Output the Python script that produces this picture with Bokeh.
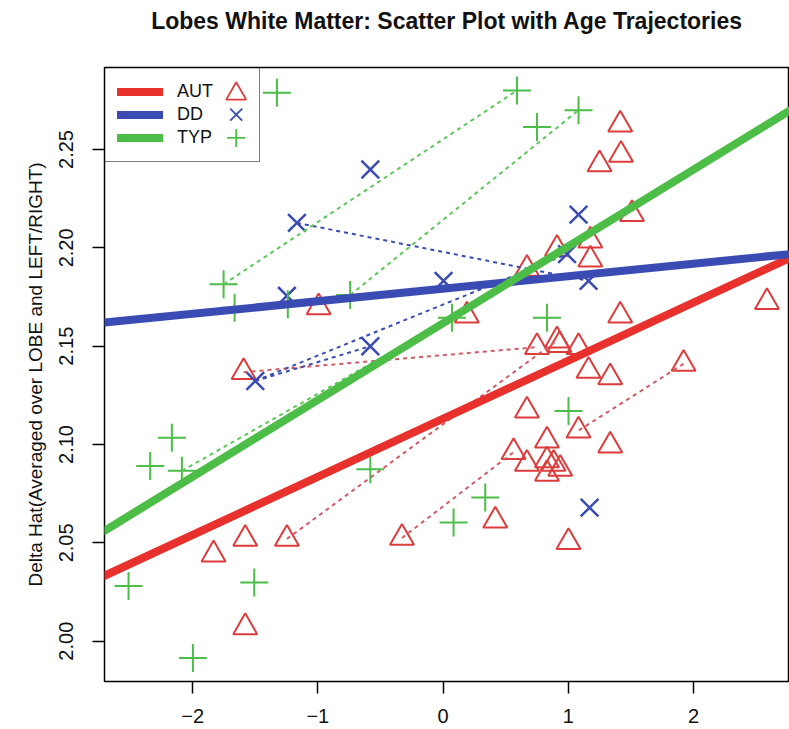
from bokeh.plotting import figure
from bokeh.models import (Range1d, FixedTicker, PrintfTickFormatter,
                          Legend, LegendItem, Title)
from bokeh.embed import file_html
from bokeh.resources import INLINE

# ---------------- data ----------------
aut_x = [1.415, 1.421, 1.25, 1.509, 0.91, 1.176, 1.176, 0.67, 2.587, 1.415, 0.91, 0.93, 0.75,
         1.082, 1.162, 1.335, 1.921, 1.082, 1.335, -0.994, 0.19, 0.67, 0.83, 0.563, 0.67, 0.83,
         0.883, 0.83, 0.936, -1.593, -0.328, 0.417, 1.002, -1.833, -1.58, -1.247, -1.58]
aut_y = [2.2627, 2.2473, 2.2425, 2.2172, 2.1995, 2.2037, 2.1940, 2.1893, 2.1724, 2.1655, 2.1529,
         2.1505, 2.1495, 2.1495, 2.1375, 2.1342, 2.1410, 2.1071, 2.0995, 2.1698, 2.1656, 2.1173,
         2.1020, 2.0961, 2.0902, 2.0919, 2.0902, 2.0851, 2.0876, 2.1368, 2.0525, 2.0613, 2.0504,
         2.0441, 2.0520, 2.0520, 2.0071]

dd_x = [-1.167, -0.581, 1.082, 0.99, 1.162, -1.247, -1.5, 0.004, -0.581, 1.170]
dd_y = [2.2127, 2.2398, 2.2169, 2.1968, 2.1832, 2.1756, 2.1323, 2.1832, 2.1500, 2.0679]

typ_x = [-1.327, 0.590, 0.750, 1.082, -1.753, -1.665, -1.24, -0.742, 0.071, 0.830, 1.002,
         -0.581, 0.337, 0.084, -2.166, -2.339, -2.086, -2.512, -1.508, -1.998]
typ_y = [2.2788, 2.2800, 2.2615, 2.2700, 2.1815, 2.1696, 2.1713, 2.1760, 2.1645, 2.1645, 2.1171,
         2.0874, 2.0730, 2.0603, 2.1035, 2.0891, 2.0866, 2.0281, 2.0298, 1.9914]

# age trajectories (first visit -> second visit)
aut_traj_x0 = [1.921, -1.593, -1.247, -0.328]
aut_traj_y0 = [2.1410, 2.1368, 2.0520, 2.0525]
aut_traj_x1 = [1.082, 0.75, 0.91, 0.563]
aut_traj_y1 = [2.1071, 2.1495, 2.1529, 2.0961]

dd_traj_x0 = [-1.167, -1.5, -1.5]
dd_traj_y0 = [2.2127, 2.1323, 2.1323]
dd_traj_x1 = [1.162, -0.581, 0.99]
dd_traj_y1 = [2.1832, 2.1500, 2.1968]

typ_traj_x0 = [-1.753, -0.742, -2.086]
typ_traj_y0 = [2.1815, 2.1760, 2.0866]
typ_traj_x1 = [0.590, 1.082, 0.071]
typ_traj_y1 = [2.2800, 2.2700, 2.1645]

# group regression lines: intercept and slope
groups = ["AUT", "DD", "TYP"]
fit_intercept = [2.1131, 2.1792, 2.1617]
fit_slope = [0.02953, 0.00636, 0.03904]

x_ticks = [-2, -1, 0, 1, 2]
y_ticks = [2.00, 2.05, 2.10, 2.15, 2.20, 2.25]

TITLE = "Lobes White Matter: Scatter Plot with Age Trajectories"

# ---------------- style ----------------
RED = "#e8312c"
RED_PT = "#dc3c3c"
RED_DOT = "#d45a66"
BLUE = "#3a4cb3"
GREEN = "#4cbd47"
GREEN_DOT = "#5cc85a"
FONT = "Liberation Sans"

x0, x1 = -2.704, 2.767
y0, y1 = 1.9795, 2.2917

p = figure(width=789, height=729, output_backend="svg", toolbar_location=None,
           x_range=Range1d(x0, x1), y_range=Range1d(y0, y1),
           min_border_left=104, min_border_right=0, min_border_top=67, min_border_bottom=48)
p.background_fill_color = "white"
p.border_fill_color = "white"
p.grid.visible = False
p.outline_line_color = "black"
p.outline_line_width = 1.5

# real title, with a blank spacer title stacked between it and the frame
p.title.text = TITLE
p.title.align = "center"
p.title.text_font = FONT
p.title.text_font_size = "23px"
p.title.text_font_style = "bold"
p.title.text_color = "#111111"
p.title.standoff = 2
p.add_layout(Title(text=" ", text_font_size="10px", standoff=20), "above")

for ax in (p.xaxis[0], p.yaxis[0]):
    ax.axis_line_color = None
    ax.major_tick_line_color = "black"
    ax.major_tick_line_width = 1.5
    ax.major_tick_out = 12
    ax.major_tick_in = 0
    ax.minor_tick_line_color = None
    ax.major_label_text_font = FONT
    ax.major_label_text_font_size = "20px"
    ax.major_label_text_color = "#111111"

p.xaxis.ticker = FixedTicker(ticks=x_ticks)
p.xaxis.major_label_standoff = 15
p.yaxis.ticker = FixedTicker(ticks=y_ticks)
p.yaxis.formatter = PrintfTickFormatter(format="%.2f")
p.yaxis.major_label_orientation = "vertical"
p.yaxis.major_label_standoff = 19
p.yaxis.axis_label = "Delta Hat(Averaged over LOBE and LEFT/RIGHT)"
p.yaxis.axis_label_text_font = FONT
p.yaxis.axis_label_text_font_size = "19px"
p.yaxis.axis_label_text_font_style = "normal"
p.yaxis.axis_label_text_color = "#111111"
p.yaxis.axis_label_standoff = 11

# points
p.scatter(x=aut_x, y=aut_y, marker="triangle", size=24, fill_color=None,
          line_color=RED_PT, line_width=2)
p.scatter(x=dd_x, y=dd_y, marker="x", size=25, line_color=BLUE, line_width=2.5)
p.scatter(x=typ_x, y=typ_y, marker="cross", size=28, line_color=GREEN, line_width=2)

# trajectories
p.segment(x0=aut_traj_x0, y0=aut_traj_y0, x1=aut_traj_x1, y1=aut_traj_y1,
          line_color=RED_DOT, line_width=2, line_dash="4 4")
p.segment(x0=dd_traj_x0, y0=dd_traj_y0, x1=dd_traj_x1, y1=dd_traj_y1,
          line_color=BLUE, line_width=2, line_dash="4 4")
p.segment(x0=typ_traj_x0, y0=typ_traj_y0, x1=typ_traj_x1, y1=typ_traj_y1,
          line_color=GREEN_DOT, line_width=2, line_dash="4 4")

# regression lines
colors = [RED, BLUE, GREEN]
fit_renderers = []
for g, b0, b1, c in zip(groups, fit_intercept, fit_slope, colors):
    xs = [x0, x1]
    ys = [b0 + b1 * x for x in xs]
    r = p.line(x=xs, y=ys, line_color=c, line_width=8, line_cap="round")
    fit_renderers.append(r)

legend = Legend(items=[LegendItem(label=g, renderers=[r]) for g, r in zip(groups, fit_renderers)],
                location="top_left", margin=0, padding=12, spacing=0,
                label_height=23, glyph_height=23, glyph_width=46, label_standoff=14,
                label_width=70, border_line_color="black", border_line_width=1.5,
                label_text_font=FONT, label_text_font_size="18px",
                label_text_color="#111111", background_fill_alpha=0.0)
p.add_layout(legend)

# legend point symbols (beside the labels, as in the R legend), placed relative to the frame
sym_x = x0 + 1.052
row_y = [y1 - 0.0122, y1 - 0.0240, y1 - 0.0358]
p.scatter(x=[sym_x], y=[row_y[0] - 0.0012], marker="triangle", size=20, fill_color=None,
          line_color=RED_PT, line_width=1.8)
p.scatter(x=[sym_x], y=[row_y[1]], marker="x", size=17, line_color=BLUE, line_width=1.8)
p.scatter(x=[sym_x], y=[row_y[2]], marker="cross", size=18, line_color=GREEN, line_width=1.8)

open("out.html", "w").write(file_html(p, INLINE))
